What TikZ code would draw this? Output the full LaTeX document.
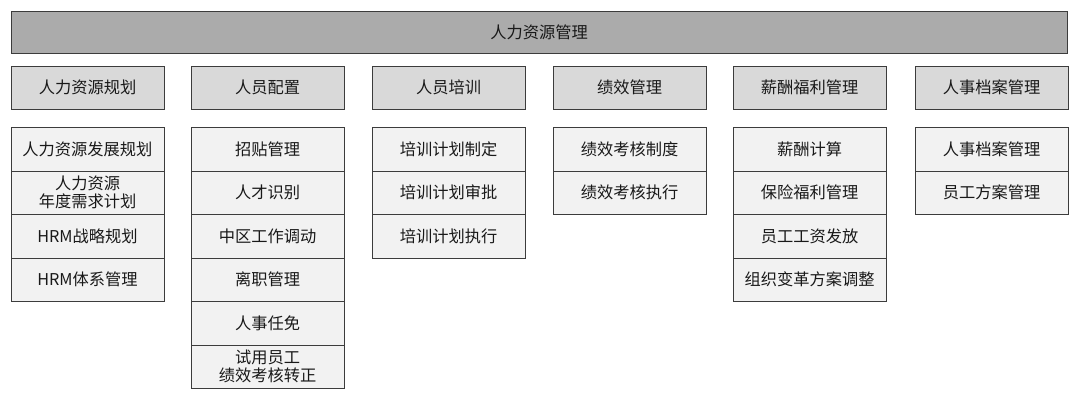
\documentclass[tikz,border=0pt]{standalone}
\usepackage{fontspec}
\setmainfont{Noto Sans CJK SC}
\usetikzlibrary{positioning}
\definecolor{topgray}{HTML}{ABABAB}
\definecolor{catgray}{HTML}{D9D9D9}
\definecolor{subgray}{HTML}{F2F2F2}
\definecolor{edgegray}{HTML}{3C3C3C}
\begin{document}
\begin{tikzpicture}[
x=1pt, y=-1pt,
box/.style={draw=edgegray, line width=1pt, align=center, inner sep=0pt,
  font=\fontsize{16.25}{18}\selectfont, text=black!90},
top/.style={box, fill=topgray, minimum width=1056pt, minimum height=42pt},
cat/.style={box, fill=catgray, minimum width=153pt, minimum height=43pt},
sub/.style={box, fill=subgray, minimum width=153pt, minimum height=43.5pt} ]

\useasboundingbox (0,0) rectangle (1080,405);

\node[top] (T) at (539,32) {人力资源管理};

\node[cat] (A) at (87.5,87.5) {人力资源规划};
\node[cat] (B) at (267.5,87.5) {人员配置};
\node[cat] (C) at (448.5,87.5) {人员培训};
\node[cat] (D) at (629.5,87.5) {绩效管理};
\node[cat] (E) at (809.5,87.5) {薪酬福利管理};
\node[cat] (F) at (991.5,87.5) {人事档案管理};

\node[sub] (A1) at (87.5,149.25) {人力资源发展规划};
\node[sub] (A2) at (87.5,192.75) {人力资源\\年度需求计划};
\node[sub] (A3) at (87.5,236.25) {HRM战略规划};
\node[sub] (A4) at (87.5,279.75) {HRM体系管理};

\node[sub] (B1) at (267.5,149.25) {招贴管理};
\node[sub] (B2) at (267.5,192.75) {人才识别};
\node[sub] (B3) at (267.5,236.25) {中区工作调动};
\node[sub] (B4) at (267.5,279.75) {离职管理};
\node[sub] (B5) at (267.5,323.25) {人事任免};
\node[sub] (B6) at (267.5,366.75) {试用员工\\绩效考核转正};

\node[sub] (C1) at (448.5,149.25) {培训计划制定};
\node[sub] (C2) at (448.5,192.75) {培训计划审批};
\node[sub] (C3) at (448.5,236.25) {培训计划执行};

\node[sub] (D1) at (629.5,149.25) {绩效考核制度};
\node[sub] (D2) at (629.5,192.75) {绩效考核执行};

\node[sub] (E1) at (809.5,149.25) {薪酬计算};
\node[sub] (E2) at (809.5,192.75) {保险福利管理};
\node[sub] (E3) at (809.5,236.25) {员工工资发放};
\node[sub] (E4) at (809.5,279.75) {组织变革方案调整};

\node[sub] (F1) at (991.5,149.25) {人事档案管理};
\node[sub] (F2) at (991.5,192.75) {员工方案管理};

\end{tikzpicture}
\end{document}
